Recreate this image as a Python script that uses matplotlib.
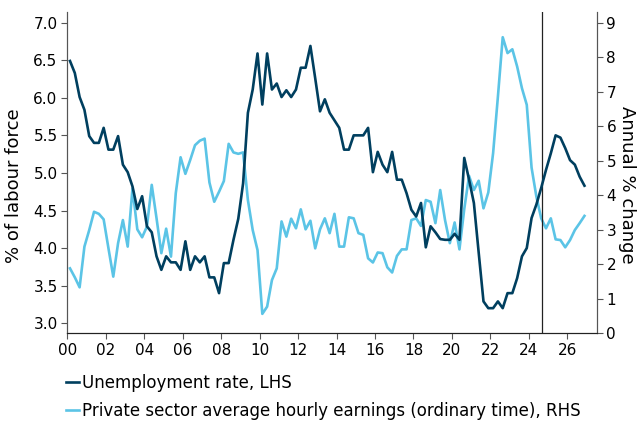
import matplotlib.pyplot as plt
import numpy as np

# quarterly data, first point 2000 Q1
start_year = 2000.14
unemployment = [
    6.49, 6.33, 6.01, 5.84, 5.49, 5.40, 5.40, 5.60, 5.31, 5.31, 5.49, 5.11, 5.01, 4.82, 4.52, 4.69,
    4.29, 4.21, 3.89, 3.71, 3.89, 3.81, 3.81, 3.71, 4.09, 3.71, 3.89, 3.81, 3.89, 3.61, 3.61, 3.40,
    3.80, 3.80, 4.11, 4.39, 4.86, 5.80, 6.11, 6.59, 5.91, 6.59, 6.11, 6.19, 6.01, 6.10, 6.01, 6.11,
    6.40, 6.40, 6.69, 6.26, 5.82, 5.98, 5.80, 5.70, 5.60, 5.31, 5.31, 5.50, 5.50, 5.50, 5.60,
    5.01, 5.28, 5.11, 5.01, 5.28, 4.91, 4.91, 4.73, 4.51, 4.42, 4.60, 4.01, 4.29, 4.21, 4.12, 4.11,
    4.11, 4.19, 4.11, 5.20, 4.91, 4.60, 3.94, 3.29, 3.20, 3.20, 3.29, 3.20, 3.40, 3.40, 3.60, 3.89,
    4.00, 4.40, 4.58, 4.80, 5.04, 5.26, 5.50, 5.47, 5.33, 5.17, 5.11, 4.95, 4.83,
]
earnings = [
    1.88, 1.62, 1.33, 2.51, 2.99, 3.52, 3.46, 3.30, 2.46, 1.64, 2.61, 3.28, 2.51, 4.20, 3.01, 2.78,
    3.09, 4.30, 3.33, 2.32, 3.03, 2.22, 4.06, 5.10, 4.62, 5.02, 5.45, 5.58, 5.64, 4.37, 3.81, 4.10,
    4.41, 5.49, 5.24, 5.20, 5.24, 3.86, 2.99, 2.41, 0.56, 0.77, 1.54, 1.88, 3.24, 2.80, 3.32, 3.04,
    3.59, 3.01, 3.26, 2.46, 3.01, 3.33, 2.90, 3.46, 2.51, 2.51, 3.36, 3.33, 2.90, 2.85, 2.17, 2.05,
    2.34, 2.32, 1.91, 1.76, 2.24, 2.43, 2.43, 3.28, 3.33, 3.11, 3.86, 3.81, 3.19, 4.15, 3.28, 2.61,
    3.21, 2.43, 3.60, 4.56, 4.15, 4.42, 3.62, 4.08, 5.22, 6.86, 8.58, 8.12, 8.23, 7.73, 7.10, 6.62,
    4.80, 3.96, 3.33, 3.04, 3.33, 2.72, 2.70, 2.49, 2.70, 2.99, 3.19, 3.40,
]
forecast_start = 2024.67
year_ticks = list(range(2000, 2027, 2))

dark = '#003f5f'
light = '#5bc4e6'
plt.rcParams['font.family'] = 'DejaVu Sans'
plt.rcParams['font.size'] = 11

dates = start_year + 0.25 * np.arange(len(unemployment))

fig = plt.figure(figsize=(6.41, 4.25), dpi=100)
ax = fig.add_axes([0.105, 0.216, 0.826, 0.7565])
ax2 = ax.twinx()

l1, = ax.plot(dates, unemployment, color=dark, lw=1.9, zorder=3)
l2, = ax2.plot(dates, earnings, color=light, lw=1.9)
ax.set_zorder(ax2.get_zorder() + 1)
ax.patch.set_visible(False)
ax.axvline(forecast_start, color='#222222', lw=0.9)

ax.set_xlim(2000, 2027.53)
ax.set_ylim(2.867, 7.146)
ax2.set_ylim(0, 9.32)
ax.set_xticks(year_ticks)
ax.set_xticklabels([f'{y % 100:02d}' for y in year_ticks])
ax.set_yticks(np.arange(3.0, 7.01, 0.5))
ax.set_yticklabels([f'{v:.1f}' for v in np.arange(3.0, 7.01, 0.5)])
ax2.set_yticks(range(0, 10))

ax.set_ylabel('% of labour force', fontsize=13, va='center')
ax2.set_ylabel('Annual % change', fontsize=13, rotation=270, va='center')
ax.yaxis.set_label_coords(-0.1, 0.46)
ax2.yaxis.set_label_coords(1.057, 0.46)

for a in (ax, ax2):
    a.spines['top'].set_visible(False)
    a.spines['left'].set_color('#555555')
    a.spines['right'].set_color('#555555')
    a.spines['bottom'].set_color('#222222')
    a.tick_params(length=4, color='#555555', pad=3)

ax.legend([l1, l2], ['Unemployment rate, LHS',
                     'Private sector average hourly earnings (ordinary time), RHS'],
          loc='upper left', bbox_to_anchor=(-0.016, -0.105), frameon=False, fontsize=12,
          handlelength=0.8, handletextpad=0.2, labelspacing=0.6, borderaxespad=0)

fig.savefig('out.png', dpi=100)
